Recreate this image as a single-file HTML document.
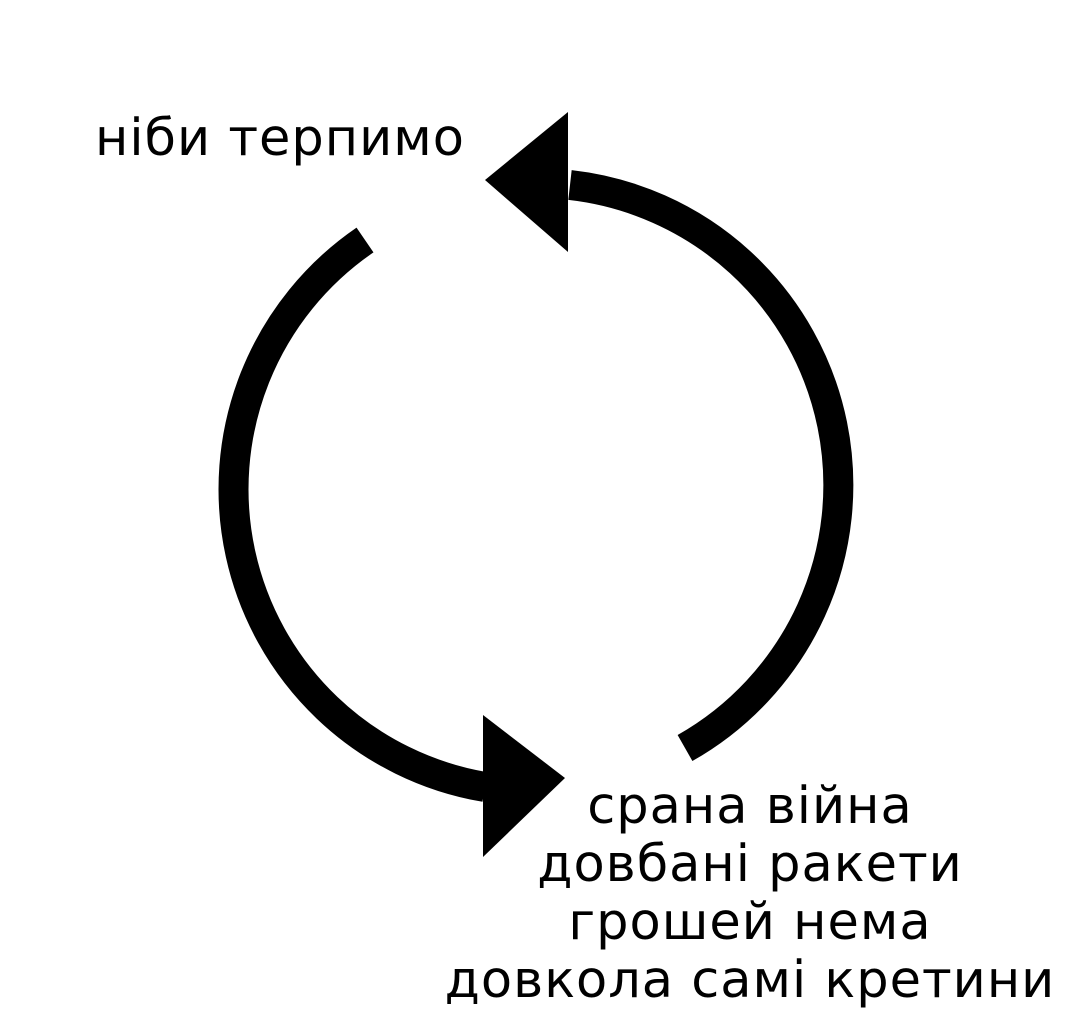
<!DOCTYPE html>
<html><head><meta charset="utf-8"><style>
html,body{margin:0;padding:0;background:#fff;}
body{width:1080px;height:1025px;position:relative;overflow:hidden;font-family:"DejaVu Sans","Liberation Sans",sans-serif;}
.t{position:absolute;font-size:51px;color:#000;white-space:nowrap;line-height:58px;letter-spacing:1px;}
</style></head><body>
<svg width="1080" height="1025" style="position:absolute;left:0;top:0">
<path d="M365 240 A302 302 0 0 0 485 787" fill="none" stroke="#000" stroke-width="30"/>
<polygon points="483,715 483,857 565,778" fill="#000"/>
<path d="M685 748 A302 302 0 0 0 570 185" fill="none" stroke="#000" stroke-width="30"/>
<polygon points="568,112 568,252 485,180" fill="#000"/>
</svg>
<div class="t" style="left:95px;top:110px;">ніби терпимо</div>
<div class="t" style="left:400px;top:778px;width:700px;text-align:center;">срана війна<br>довбані ракети<br>грошей нема<br>довкола самі кретини</div>
</body></html>
